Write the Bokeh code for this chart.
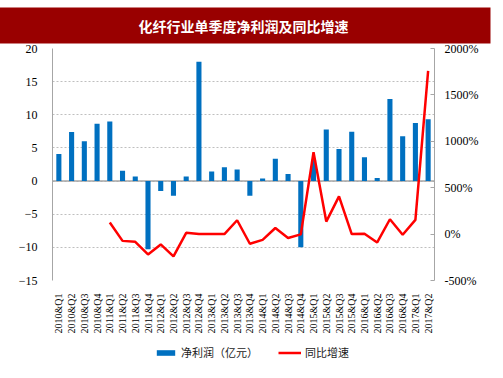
import math
import numpy as np
from bokeh.plotting import figure
from bokeh.layouts import column
from bokeh.models import (Range1d, FactorRange, LinearAxis, FixedTicker, Span,
                          Legend, LegendItem, ColumnDataSource, Title)
from bokeh.embed import file_html
from bokeh.resources import INLINE

quarters = ["2010&Q1", "2010&Q2", "2010&Q3", "2010&Q4",
            "2011&Q1", "2011&Q2", "2011&Q3", "2011&Q4",
            "2012&Q1", "2012&Q2", "2012&Q3", "2012&Q4",
            "2013&Q1", "2013&Q2", "2013&Q3", "2013&Q4",
            "2014&Q1", "2014&Q2", "2014&Q3", "2014&Q4",
            "2015&Q1", "2015&Q2", "2015&Q3", "2015&Q4",
            "2016&Q1", "2016&Q2", "2016&Q3", "2016&Q4",
            "2017&Q1", "2017&Q2"]
net_profit = [4.1, 7.4, 6.0, 8.65, 9.0, 1.55, 0.68, -10.3,
              -1.5, -2.2, 0.68, 18.0, 1.45, 2.08, 1.75, -2.2,
              0.38, 3.35, 1.06, -10.0, 3.2, 7.77, 4.85, 7.43,
              3.6, 0.48, 12.4, 6.75, 8.75, 9.33]
yoy_growth = [np.nan, np.nan, np.nan, np.nan, 125, -73, -83, -219,
              -111, -240, 14, 0, 0, 0, 149, -104,
              -62, 66, -42, -3, 882, 135, 406, 0,
              3, -90, 160, -7, 153, 1760]
left_ticks = [-15, -10, -5, 0, 5, 10, 15, 20]
right_ticks = [-500, 0, 500, 1000, 1500, 2000]
right_tick_labels = {v: f"{v}%" for v in right_ticks}
title_text = "化纤行业单季度净利润及同比增速"
bar_label = "净利润（亿元）"
line_label = "同比增速"
BAR_COLOR = "#0070C0"
LINE_COLOR = "#FF0000"

src = ColumnDataSource(dict(q=quarters, v=net_profit, g=yoy_growth))

p = figure(width=503, height=336, x_range=FactorRange(factors=quarters, range_padding=0),
           y_range=Range1d(-15, 20), output_backend="svg", toolbar_location=None,
           min_border_left=52, min_border_right=69, min_border_top=46, min_border_bottom=50,
           margin=(0, 0, 0, 0))
p.title = Title(text=title_text, align="center", offset=14, standoff=10,
                text_font="Noto Sans CJK SC", text_font_style="bold", text_font_size="14px",
                text_color="white", background_fill_color="#990000",
                padding=dict(left=142, right=142, top=8, bottom=8))
p.extra_y_ranges = {"pct": Range1d(-500, 2000)}
p.outline_line_color = None
p.background_fill_color = "white"
p.border_fill_color = "white"

p.xgrid.grid_line_color = None
p.ygrid.ticker = FixedTicker(ticks=left_ticks)
p.ygrid.grid_line_color = "#bfbfbf"
p.ygrid.grid_line_dash = "2 2"
p.ygrid.grid_line_width = 1

p.add_layout(Span(location=0, dimension="width", line_color="#a6a6a6", line_width=1.5, level="underlay"))

p.vbar(x="q", top="v", bottom=0, width=0.4, source=src, fill_color=BAR_COLOR, line_color=None)
p.line(x="q", y="g", source=src, y_range_name="pct", line_color=LINE_COLOR, line_width=2.5)

yl = p.yaxis[0]
yl.ticker = FixedTicker(ticks=left_ticks)
yl.axis_line_color = "#a6a6a6"
yl.major_tick_line_color = None
yl.minor_tick_line_color = None
yl.major_label_text_font = "Liberation Serif"
yl.major_label_text_font_size = "12px"
yl.major_label_text_color = "#000000"
yl.major_label_standoff = 9

yr = LinearAxis(y_range_name="pct", ticker=FixedTicker(ticks=right_ticks))
yr.major_label_overrides = right_tick_labels
yr.axis_line_color = "#a6a6a6"
yr.major_tick_line_color = "#a6a6a6"
yr.major_tick_in = 4
yr.major_tick_out = 0
yr.minor_tick_line_color = None
yr.major_label_text_font = "Liberation Serif"
yr.major_label_text_font_size = "12px"
yr.major_label_text_color = "#000000"
yr.major_label_standoff = 10
p.add_layout(yr, "right")

xa = p.xaxis[0]
xa.axis_line_color = None
xa.major_tick_line_color = None
xa.minor_tick_line_color = None
xa.major_label_orientation = math.pi / 2
xa.major_label_text_font = "Liberation Serif"
xa.major_label_text_font_size = "10px"
xa.major_label_text_color = "#000000"
xa.major_label_standoff = 7

# legend strip below the chart: same data and styles, drawn outside its visible range
lf = figure(width=503, height=42, x_range=FactorRange(factors=quarters, range_padding=0),
            y_range=Range1d(5000, 5001), output_backend="svg", toolbar_location=None,
            x_axis_location=None, y_axis_location=None,
            min_border_left=0, min_border_right=0, min_border_top=0, min_border_bottom=0,
            margin=(0, 0, 0, 0))
lf.grid.visible = False
lf.outline_line_color = None
lbar = lf.vbar(x="q", top="v", bottom=0, width=0.4, source=src, fill_color=BAR_COLOR, line_color=None)
lline = lf.line(x="q", y="g", source=src, line_color=LINE_COLOR, line_width=2.5)
legend = Legend(items=[LegendItem(label=bar_label, renderers=[lbar]),
                       LegendItem(label=line_label, renderers=[lline])],
                orientation="horizontal", location=(102, 18),
                glyph_width=23, glyph_height=7, label_standoff=4, spacing=20,
                padding=0, margin=0, border_line_color=None, background_fill_alpha=0,
                label_text_font="Noto Sans CJK SC", label_text_font_size="11px",
                label_text_color="#1a1a1a")
lf.add_layout(legend, "center")

layout = column(p, lf, spacing=0)
open("out.html", "w").write(file_html(layout, INLINE))
